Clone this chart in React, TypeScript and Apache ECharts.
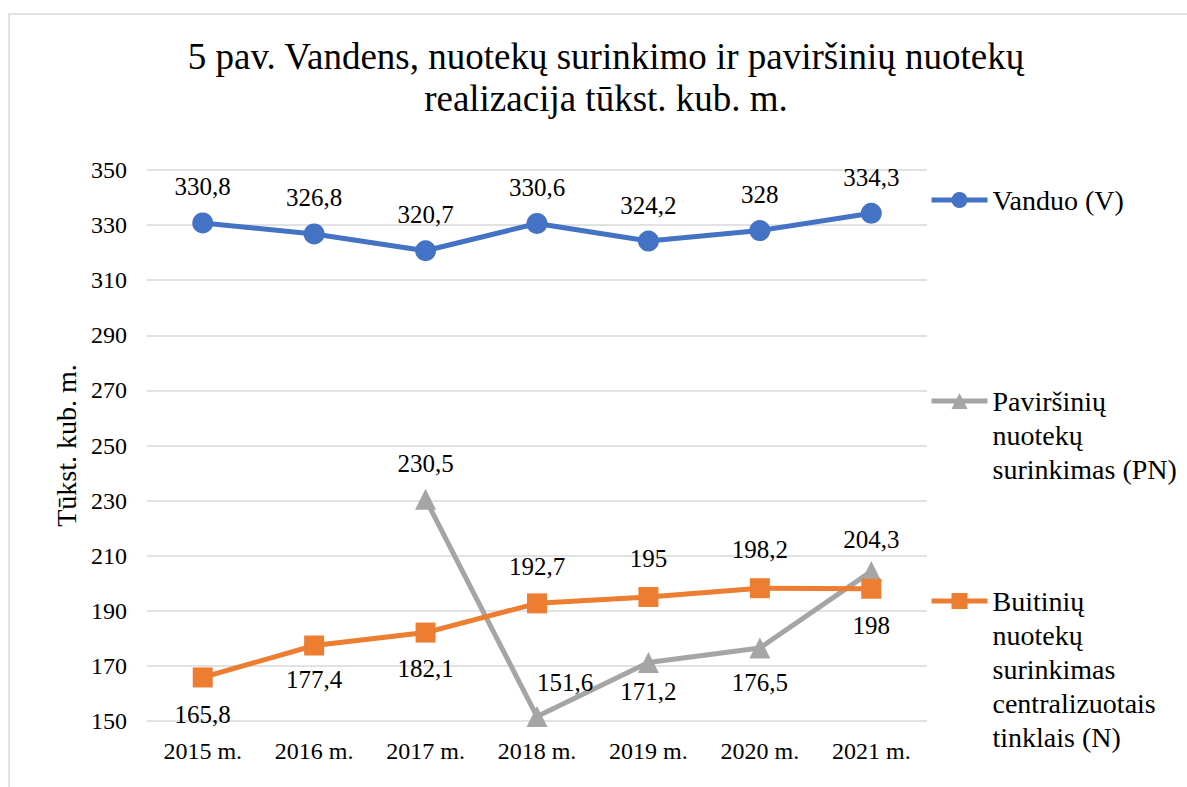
import React, { useEffect, useRef } from "react";
import * as echarts from "echarts";

const categories = ["2015 m.", "2016 m.", "2017 m.", "2018 m.", "2019 m.", "2020 m.", "2021 m."];
const vanduo = [330.8, 326.8, 320.7, 330.6, 324.2, 328, 334.3];
const pavirsiniu = [null, null, 230.5, 151.6, 171.2, 176.5, 204.3];
const buitiniu = [165.8, 177.4, 182.1, 192.7, 195, 198.2, 198];
const yMin = 150;
const yMax = 350;
const yStep = 20;

const nameV = "Vanduo (V)";
const namePN = "Paviršinių\nnuotekų\nsurinkimas (PN)";
const nameN = "Buitinių\nnuotekų\nsurinkimas\ncentralizuotais\ntinklais (N)";

// label placement (style)
const posV = ["top", "top", "top", "top", "top", "top", "top"];
const posPN = ["top", "top", "top", "top", "bottom", "bottom", "top"];
const distPN = [10, 10, 13, 11, 6, 12, 9];
const offPN = [[0, 0], [0, 0], [0, 0], [28, 0], [0, 0], [0, 0], [0, 0]];
const posN = ["bottom", "bottom", "bottom", "top", "top", "top", "bottom"];
const distN = [15, 11, 13, 14, 16, 16, 14];

const FONT = "Liberation Serif";
const fmt = (v: number) => String(v).replace(".", ",");

function buildData(values: (number | null)[], pos: string[], dist: number[] | number, off?: number[][]) {
  return values.map((v, i) => {
    if (v == null) return null;
    return {
      value: v,
      label: {
        position: pos[i],
        distance: Array.isArray(dist) ? dist[i] : dist,
        offset: off ? off[i] : [0, 0],
      },
    };
  });
}

const seriesLabel = {
  show: true,
  fontSize: 25,
  color: "#000",
  fontFamily: FONT,
  formatter: (p: any) => fmt(p.value),
};

// prepend blank lines so the first line of a multi-line legend entry sits beside the icon
const legendFmt = (name: string) => {
  const n = name.split("\n").length;
  return "\n".repeat(n - 1) + name;
};

export default function App() {
  const ref = useRef<HTMLDivElement>(null);
  useEffect(() => {
    if (!ref.current) return;
    const chart = echarts.init(ref.current, undefined, { renderer: "svg" });
    const legendBase = {
      orient: "vertical",
      left: 929,
      padding: 0,
      itemWidth: 56,
      itemHeight: 20,
      selectedMode: false,
      lineStyle: { width: 5 },
      formatter: legendFmt,
      textStyle: { fontFamily: FONT, fontSize: 28, lineHeight: 34, color: "#000" },
    };
    const option: any = {
      animation: false,
      backgroundColor: "#fff",
      graphic: [
        {
          type: "rect",
          shape: { x: 9, y: 14, width: 1200, height: 800 },
          style: { fill: "none", stroke: "#d9d9d9", lineWidth: 1.5 },
          silent: true,
        },
      ],
      title: {
        text: "5 pav. Vandens, nuotekų surinkimo ir paviršinių nuotekų\nrealizacija tūkst. kub. m.",
        left: 606,
        textAlign: "center",
        top: 35,
        padding: 0,
        textStyle: {
          fontFamily: FONT,
          fontSize: 37,
          fontWeight: "normal",
          lineHeight: 42,
          color: "#000",
        },
      },
      legend: [
        { ...legendBase, top: 183, data: [nameV] },
        { ...legendBase, top: 316, data: [namePN] },
        { ...legendBase, top: 448, data: [nameN] },
      ],
      grid: { left: 147, right: 260, top: 170, bottom: 787 - 721, containLabel: false },
      xAxis: {
        type: "category",
        data: categories,
        boundaryGap: true,
        axisLine: { show: false },
        axisTick: { show: false },
        axisLabel: { fontSize: 24, color: "#000", margin: 18, fontFamily: FONT },
      },
      yAxis: {
        type: "value",
        min: yMin,
        max: yMax,
        interval: yStep,
        name: "Tūkst. kub. m.",
        nameLocation: "middle",
        nameGap: 67,
        nameTextStyle: { fontSize: 28, color: "#000", fontFamily: FONT },
        axisLine: { show: false },
        axisTick: { show: false },
        axisLabel: { fontSize: 24, color: "#000", margin: 20, fontFamily: FONT },
        splitLine: { lineStyle: { color: "#d9d9d9", width: 1.5 } },
      },
      series: [
        {
          name: nameV,
          type: "line",
          data: buildData(vanduo, posV, 13),
          label: seriesLabel,
          symbol: "circle",
          symbolSize: 21,
          lineStyle: { color: "#4472C4", width: 5 },
          itemStyle: { color: "#4472C4" },
        },
        {
          name: namePN,
          type: "line",
          data: buildData(pavirsiniu, posPN, distPN, offPN),
          label: seriesLabel,
          symbol: "triangle",
          symbolSize: 21,
          lineStyle: { color: "#A5A5A5", width: 5 },
          itemStyle: { color: "#A5A5A5" },
        },
        {
          name: nameN,
          type: "line",
          data: buildData(buitiniu, posN, distN),
          label: seriesLabel,
          symbol: "rect",
          symbolSize: 20,
          lineStyle: { color: "#ED7D31", width: 5 },
          itemStyle: { color: "#ED7D31" },
        },
      ],
    };
    chart.setOption(option);
    return () => chart.dispose();
  }, []);
  return (
    <div
      ref={ref}
      style={{ position: "absolute", left: 0, top: 0, width: 1187, height: 787 }}
    />
  );
}
